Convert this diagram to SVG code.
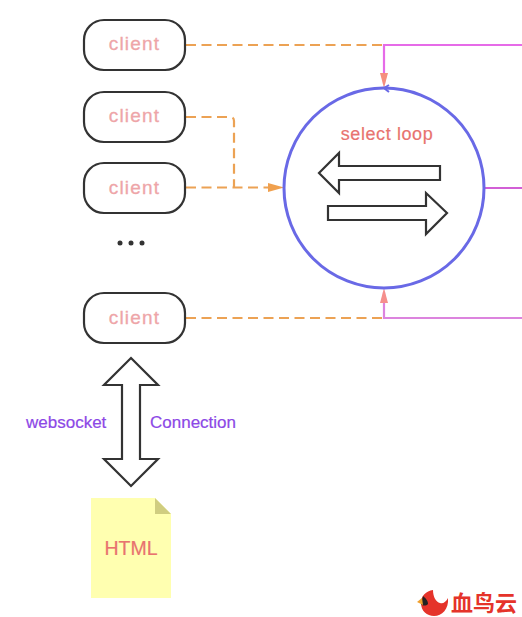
<svg xmlns="http://www.w3.org/2000/svg" width="522" height="617" viewBox="0 0 522 617">
<style>
text{font-family:"Liberation Sans",Arial,sans-serif}
.box{fill:#fff;stroke:#333;stroke-width:2.200}
.cl{font-size:19px;fill:#eea5a8;stroke:#eea5a8;stroke-width:.3;text-anchor:middle;letter-spacing:1.200px}
.dash{fill:none;stroke:#eca254;stroke-width:2.200;stroke-dasharray:10 5.500}
.mag{fill:none;stroke:#e66be8;stroke-width:2.200}
.blk{fill:#fff;stroke:#333;stroke-width:2.200}
.pur{font-size:17px;fill:#8c48e6;stroke:#8c48e6;stroke-width:.2}
.red{fill:#e8736f;stroke:#e8736f;stroke-width:.2}
</style>
<g id="connectors">
<path class="dash" d="M186 45H383"/>
<path class="dash" d="M186 117H230Q234 117 234 121V187"/>
<path class="dash" d="M186 187.500H270"/>
<path class="dash" d="M186 318H383"/>
<path class="mag" d="M522 45H384V84"/>
<path class="mag" d="M522 188H485" style="stroke:#d25fd6"/>
<path class="mag" d="M522 318H384V292" style="stroke:#dc84de"/>
<polygon points="268,183 284,187.500 268,192" fill="#f0a04e"/>
<polygon points="380,73 388,73 384,88" fill="#f58f7e"/>
<polygon points="380,303 388,303 384,288" fill="#f58f8c"/>
<path d="M389 85L384 88L389 92" fill="none" stroke="#6a6ae6" stroke-width="2"/>
</g>
<g id="loop">
<circle cx="384" cy="188" r="100" fill="none" stroke="#6969e6" stroke-width="3"/>
<text x="387" y="140" font-size="18" letter-spacing=".6" class="red" text-anchor="middle">select loop</text>
</g>
<g id="arrow-left"><polygon class="blk" points="319,173 339,153 339,166 440,166 440,180 339,180 339,193"/></g>
<g id="arrow-right"><polygon class="blk" points="447,213 426,193 426,206 328,206 328,220 426,220 426,234"/></g>
<g id="client1"><rect class="box" x="84" y="20" width="101" height="50" rx="20"/><text class="cl" x="134.500" y="50">client</text></g>
<g id="client2"><rect class="box" x="84" y="92" width="101" height="50" rx="20"/><text class="cl" x="134.500" y="122">client</text></g>
<g id="client3"><rect class="box" x="84" y="163" width="101" height="50" rx="20"/><text class="cl" x="134.500" y="194">client</text></g>
<g id="dots"><circle cx="120" cy="243" r="2.500" fill="#333"/><circle cx="131" cy="243" r="2.500" fill="#333"/><circle cx="142" cy="243" r="2.500" fill="#333"/></g>
<g id="client4"><rect class="box" x="84" y="293" width="101" height="50" rx="20"/><text class="cl" x="134.500" y="324">client</text></g>
<g id="connection">
<polygon class="blk" points="131,358 158,385 140,385 140,459 158,459 131,486 104,459 122,459 122,385 104,385"/>
<text class="pur" x="26" y="428">websocket</text>
<text class="pur" x="150" y="428">Connection</text>
</g>
<g id="html">
<polygon points="91,498 155,498 171,514 171,598 91,598" fill="#ffffb0"/>
<polygon points="155,498 171,514 155,514" fill="#d0cd80"/>
<text x="131" y="555" font-size="19.500" class="red" text-anchor="middle">HTML</text>
</g>
<g id="logo">
<path d="M433 590C426 591 421 596 421 603C421 611 427 616 434 616C442 616 449 609 448 598C446 602 443 604 440 603C436 602 433 597 433 590Z" fill="#e5332a"/>
<path d="M423 596C425 598 428 600 428 604C426 606 423 606 421 604Z" fill="#222"/>
<polygon points="417,602 422,598 423,605" fill="#f0a030"/>
<text x="451" y="611" font-size="22" font-weight="700" fill="#e5332a" style="font-family:'Noto Sans CJK SC',sans-serif">血鸟云</text>
</g>
</svg>
